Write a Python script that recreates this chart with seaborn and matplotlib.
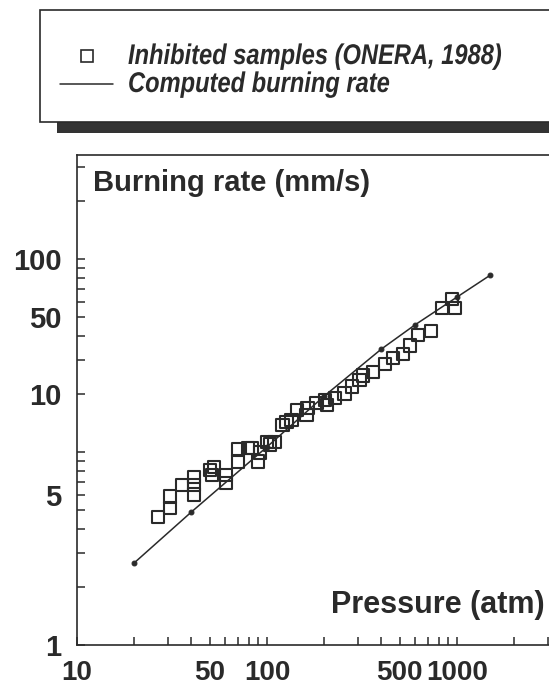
import numpy as np
import pandas as pd
import matplotlib
matplotlib.use("Agg")
import matplotlib.pyplot as plt
import seaborn as sns
from matplotlib.patches import Rectangle
from matplotlib.lines import Line2D
from matplotlib.ticker import FixedLocator, NullFormatter
from matplotlib import font_manager as fm
from matplotlib.patheffects import AbstractPathEffect
from matplotlib.transforms import Affine2D

# ---------------- data ----------------
sample_pressure = [26.7, 30.9, 30.9, 35.7, 41.3, 41.3, 41.3, 50.1, 51.4, 52.6,
                   60.8, 60.8, 70.3, 70.3, 79.4, 83.4, 89.7, 91.9, 100, 110,
                   103.7, 121, 127, 135, 144, 164, 162, 183, 202, 207,
                   228, 257, 280, 308, 320, 361, 418, 460, 520, 566,
                   624, 730, 834, 941, 976]
sample_rate = [3.94, 4.34, 4.89, 5.35, 5.02, 5.35, 5.65, 5.93, 5.73, 6.05,
               5.73, 5.42, 6.27, 6.81, 6.90, 6.90, 6.27, 6.67, 7.19, 7.19,
               7.05, 8.08, 8.24, 8.36, 8.95, 9.08, 8.65, 9.40, 9.59, 9.27,
               9.72, 10.0, 11.6, 13.4, 14.6, 15.8, 18.7, 21.2, 23.1, 27.8,
               34.3, 37.4, 55.7, 62.1, 55.7]
computed_pressure = [20, 40, 100, 200, 400, 600, 1000, 1500]
computed_rate = [2.41, 4.16, 6.95, 9.85, 25.6, 42.4, 63.5, 82.6]

x_tick_values = [10, 50, 100, 500, 1000]
x_tick_labels = ["10", "50", "100", "500", "1000"]
y_tick_values = [1, 5, 10, 50, 100]
y_tick_labels = ["1", "5", "10", "50", "100"]
legend_labels = ["Inhibited samples (ONERA, 1988)", "Computed burning rate"]
x_label = "Pressure (atm)"
y_label = "Burning rate (mm/s)"

# the original's y axis: labelled values sit on these log-grid positions
y_grid_pos = [np.log10(6), np.log10(20), np.log10(50), 2.0]
y_minor_grid = [2, 3, 4, 5, 6, 7, 8, 9, 10, 20, 30, 40, 50, 60, 70, 80, 90, 100, 200, 300]
x_minor = [20, 30, 40, 60, 70, 80, 90, 200, 300, 400, 600, 700, 800, 900, 2000, 3000]

L_anchor = np.log10([0.01, 1, 5, 10, 50, 100, 1e4])
P_anchor = np.array([-2 * y_grid_pos[0] / np.log10(5), 0.0] + y_grid_pos + [4.0])


def fwd(v):
    v = np.asarray(v, dtype=float)
    return np.interp(np.log10(np.clip(v, 1e-12, None)), L_anchor, P_anchor)


def inv(p):
    p = np.asarray(p, dtype=float)
    return 10 ** np.interp(p, P_anchor, L_anchor)


class Stretch(AbstractPathEffect):
    """Stretch glyphs vertically about the baseline (condensed typeface look)."""
    def __init__(self, sx, sy):
        super().__init__()
        self.sx, self.sy = sx, sy

    def draw_path(self, renderer, gc, tpath, affine, rgbFace=None):
        renderer.draw_path(gc, tpath, Affine2D().scale(self.sx, self.sy) + affine, rgbFace)


samples = pd.DataFrame({"pressure": sample_pressure, "rate": sample_rate})
computed = pd.DataFrame({"pressure": computed_pressure, "rate": computed_rate})

# ---------------- style ----------------
sns.set_theme(style="white")
ink = "#2a2a2a"
plt.rcParams["font.family"] = ["Liberation Sans", "DejaVu Sans"]

W, H = 549, 689
fig = plt.figure(figsize=(W / 100, H / 100), dpi=100)
ax = fig.add_axes([77 / W, 44 / H, (556 - 77) / W, (645 - 155) / H])

sns.lineplot(data=computed, x="pressure", y="rate", ax=ax, color=ink, linewidth=1.1,
             marker="o", markersize=3.5, markeredgecolor=ink, markerfacecolor=ink,
             zorder=2, legend=False)
sns.scatterplot(data=samples, x="pressure", y="rate", ax=ax, marker="s", s=85,
                facecolor="none", edgecolor=ink, linewidth=1.5, zorder=3, legend=False)

ax.set_xscale("log")
ax.set_yscale("function", functions=(fwd, inv))
ax.set_xlim(10, 10 ** (1 + (556 - 77) / 190))
ax.set_ylim(1, float(inv((645 - 155) / 193)))

ax.set_xticks(x_tick_values, x_tick_labels, fontweight="bold", fontsize=20, color=ink)
ax.set_yticks(y_tick_values, y_tick_labels, fontweight="bold", fontsize=21, color=ink)
ax.xaxis.set_minor_locator(FixedLocator(x_minor))
ax.xaxis.set_minor_formatter(NullFormatter())
ax.yaxis.set_minor_locator(FixedLocator(inv(np.log10(y_minor_grid))))
ax.yaxis.set_minor_formatter(NullFormatter())
ax.tick_params(which="both", direction="in", length=6, width=1.1, color=ink,
               bottom=True, left=True, top=False, right=False)
ax.tick_params(which="major", pad=11)
ax.set_xlabel("")
ax.set_ylabel("")

for side in ["left", "bottom", "top"]:
    ax.spines[side].set_color(ink)
    ax.spines[side].set_linewidth(1.2)
ax.spines["right"].set_visible(False)

aw = 556 - 77
ah = 645 - 155
ax.text((93 - 77) / aw, 1 - (183 - 155) / ah, y_label,
        transform=ax.transAxes, ha="left", va="center", fontsize=21,
        fontweight="bold", color=ink)
ax.text((545 - 77) / aw, (645 - 605) / ah, x_label,
        transform=ax.transAxes, ha="right", va="center", fontsize=22,
        fontweight="bold", color=ink)

# ---------------- legend box with shadow ----------------
fig.patches.append(Rectangle((57 / W, (H - 133) / H), 1.0, 100 / H,
                             transform=fig.transFigure, facecolor="#333333",
                             edgecolor="none", zorder=0))
fig.patches.append(Rectangle((40 / W, (H - 122) / H), 1.0, 112 / H,
                             transform=fig.transFigure, facecolor="white",
                             edgecolor=ink, linewidth=1.2, zorder=1))

# legend font: choose the size whose natural width fits, then stretch upward
glyph_pt = 20.5
probe_prop = fm.FontProperties(family=["Liberation Sans", "DejaVu Sans"], style="italic",
                               weight="bold", size=glyph_pt)
probe = fig.text(0, 0, legend_labels[0], fontproperties=probe_prop)
renderer = fig.canvas.get_renderer()
w_probe = probe.get_window_extent(renderer).width
probe.remove()
target_w = 502 - 128
leg_pt = glyph_pt * target_w / w_probe
sy = glyph_pt / leg_pt
leg_px = leg_pt * 100 / 72
leg_prop = fm.FontProperties(family=["Liberation Sans", "DejaVu Sans"], style="italic",
                             weight="bold", size=leg_pt)

handles = [Line2D([], [], marker="s", linestyle="none", markerfacecolor="none",
                  markeredgecolor=ink, markeredgewidth=1.2, markersize=8),
           Line2D([], [], color=ink, linewidth=1.1)]
leg = fig.legend(handles, legend_labels, loc="upper left",
                 bbox_to_anchor=(60 / W, (H - 46) / H), frameon=False,
                 borderpad=0, borderaxespad=0, handlelength=53 / leg_px,
                 handletextpad=15 / leg_px, labelspacing=27 / leg_px - 0.93,
                 prop=leg_prop, labelcolor=ink)
leg.set_zorder(5)
for t in leg.get_texts():
    t.set_path_effects([Stretch(1.0, sy)])

fig.savefig("out.png", dpi=100, facecolor="white")
